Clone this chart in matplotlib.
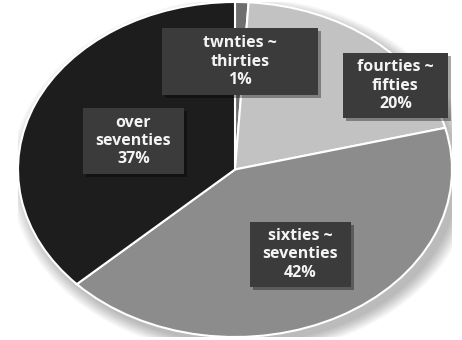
import matplotlib
matplotlib.use("Agg")
import matplotlib.pyplot as plt
from matplotlib.patches import Rectangle, Ellipse

categories = ["twnties ~\nthirties", "fourties ~\nfifties", "sixties ~\nseventies", "over\nseventies"]
values = [1, 20, 42, 37]
colors = ["#6e6e6e", "#c2c2c2", "#8c8c8c", "#1d1d1d"]

# label box extents in pixels (x0, y0_top, x1, y1_bottom)
boxes = [(162, 28, 318, 95), (343, 53, 448, 118), (250, 222, 351, 287), (83, 108, 184, 174)]

W, H = 462, 340
fig = plt.figure(figsize=(W / 100, H / 100), dpi=100)
fig.patch.set_facecolor("white")

# pie axes
l, r, t, b = 18, 452, 2, 337
ax = fig.add_axes([l / W, (H - b) / H, (r - l) / W, (b - t) / H])
ax.set_xlim(-1, 1)
ax.set_ylim(-1, 1)
ax.axis("off")

# soft shadow
for i in range(12):
    e = Ellipse((0.03, -0.04), 2 + 0.012 * i, 2 + 0.012 * i, facecolor="#000000",
                alpha=0.025, edgecolor="none", zorder=0)
    ax.add_patch(e)

ax.pie(values, colors=colors, startangle=90, counterclock=False, radius=1,
       wedgeprops=dict(edgecolor="white", linewidth=1.5), frame=False)
ax.set_aspect("auto")
ax.set_xlim(-1, 1)
ax.set_ylim(-1, 1)

# labels
for cat, v, (x0, y0, x1, y1) in zip(categories, values, boxes):
    fx0, fx1 = x0 / W, x1 / W
    fy0, fy1 = (H - y1) / H, (H - y0) / H
    fig.patches.append(Rectangle((fx0 + 3 / W, fy0 - 3 / H), fx1 - fx0, fy1 - fy0,
                                 transform=fig.transFigure, facecolor="#000000",
                                 alpha=0.35, edgecolor="none", zorder=3))
    fig.patches.append(Rectangle((fx0, fy0), fx1 - fx0, fy1 - fy0,
                                 transform=fig.transFigure, facecolor="#3b3b3b",
                                 edgecolor="none", zorder=4))
    fig.text((fx0 + fx1) / 2, (fy0 + fy1) / 2, f"{cat}\n{v}%", ha="center", va="center",
             color="#f4f4f4", fontsize=11.5, fontweight="bold", family="Open Sans",
             linespacing=1.2, zorder=5)

fig.savefig("out.png", dpi=100)
